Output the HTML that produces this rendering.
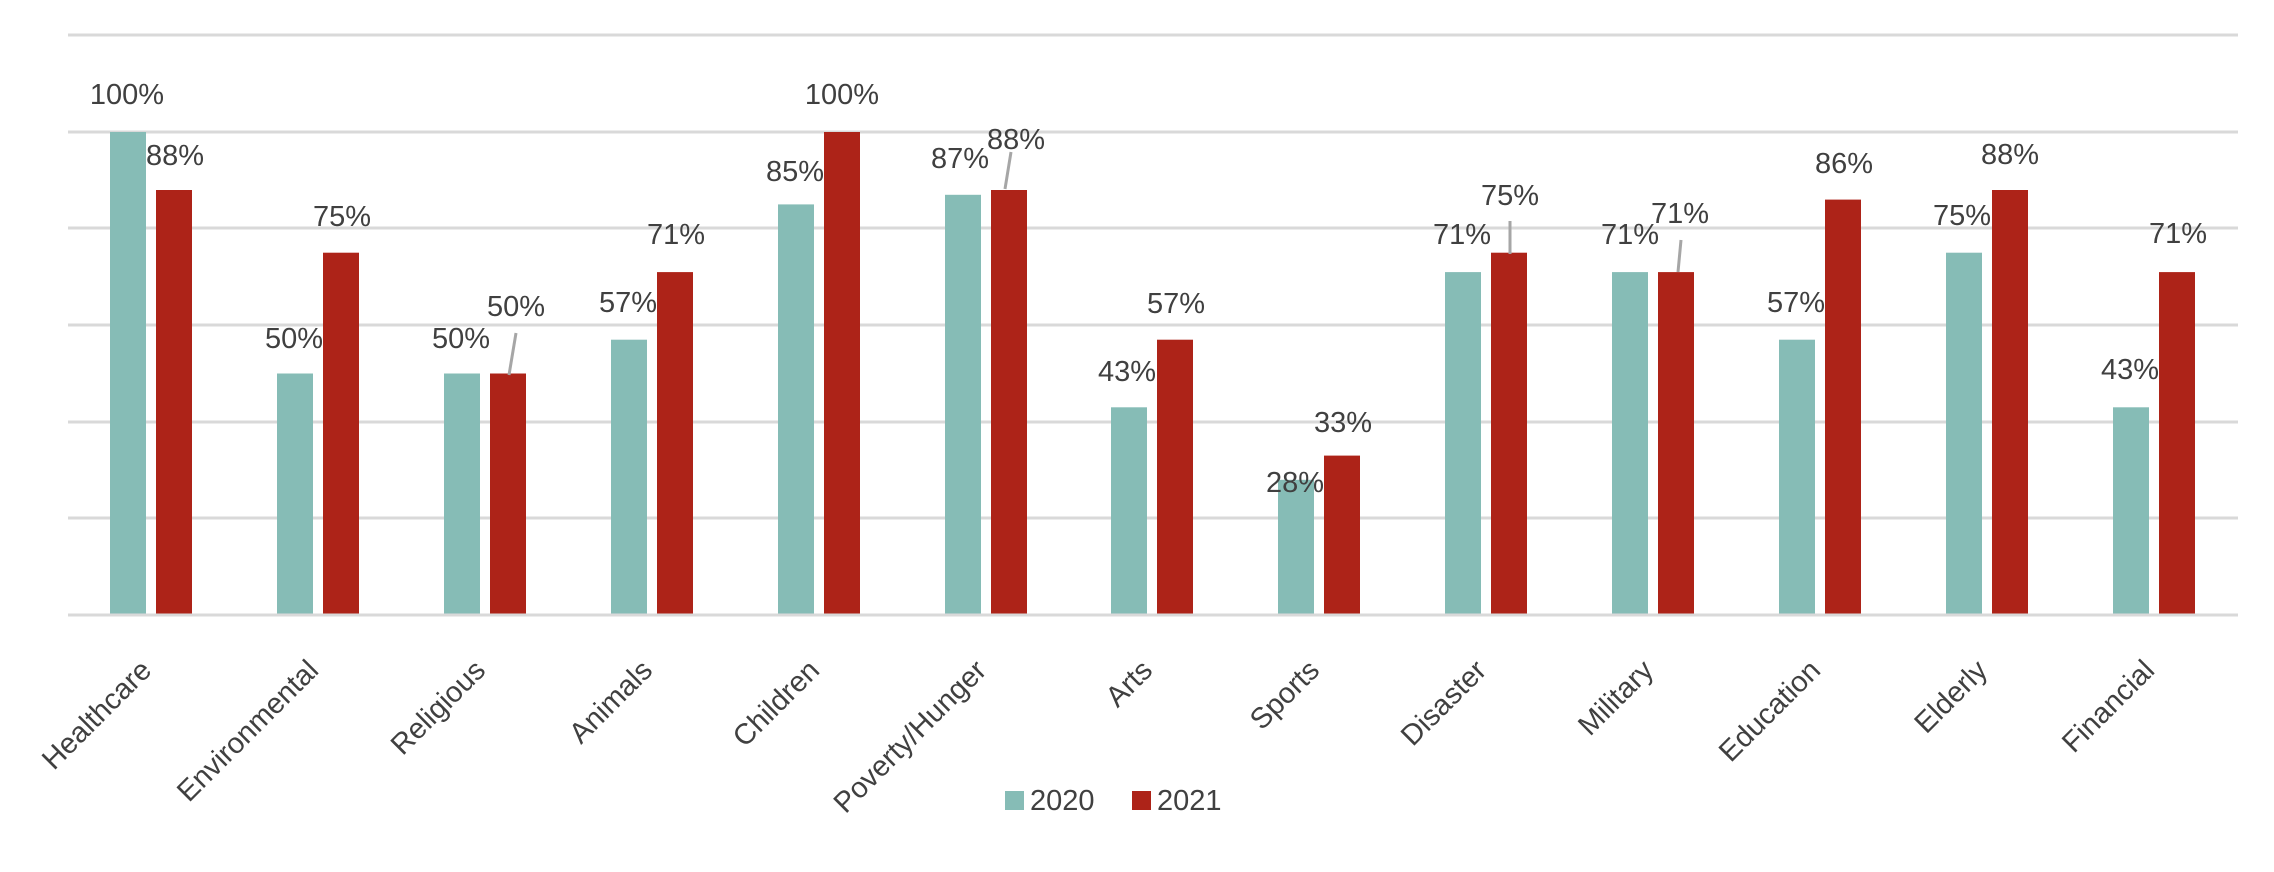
<!DOCTYPE html>
<html><head><meta charset="utf-8"><style>html,body{margin:0;padding:0;background:#fff}svg{display:block}</style></head>
<body>
<svg width="2274" height="872" xmlns="http://www.w3.org/2000/svg" font-family="Liberation Sans, sans-serif" font-size="29" fill="#404040">
<g stroke="#D9D9D9" stroke-width="3">
<line x1="68" x2="2238" y1="35" y2="35"/><line x1="68" x2="2238" y1="132" y2="132"/><line x1="68" x2="2238" y1="228" y2="228"/><line x1="68" x2="2238" y1="325" y2="325"/><line x1="68" x2="2238" y1="422" y2="422"/><line x1="68" x2="2238" y1="518" y2="518"/>
</g>
<g fill="#86BCB6">
<rect x="110" y="132" width="36" height="483"/>
<rect x="277" y="373.5" width="36" height="241.5"/>
<rect x="444" y="373.5" width="36" height="241.5"/>
<rect x="611" y="339.7" width="36" height="275.3"/>
<rect x="778" y="204.4" width="36" height="410.6"/>
<rect x="945" y="194.8" width="36" height="420.2"/>
<rect x="1111" y="407.3" width="36" height="207.7"/>
<rect x="1278" y="479.8" width="36" height="135.2"/>
<rect x="1445" y="272.1" width="36" height="342.9"/>
<rect x="1612" y="272.1" width="36" height="342.9"/>
<rect x="1779" y="339.7" width="36" height="275.3"/>
<rect x="1946" y="252.7" width="36" height="362.3"/>
<rect x="2113" y="407.3" width="36" height="207.7"/>
</g>
<g fill="#AD2318">
<rect x="156" y="190" width="36" height="425"/>
<rect x="323" y="252.7" width="36" height="362.3"/>
<rect x="490" y="373.5" width="36" height="241.5"/>
<rect x="657" y="272.1" width="36" height="342.9"/>
<rect x="824" y="132" width="36" height="483"/>
<rect x="991" y="190" width="36" height="425"/>
<rect x="1157" y="339.7" width="36" height="275.3"/>
<rect x="1324" y="455.6" width="36" height="159.4"/>
<rect x="1491" y="252.7" width="36" height="362.3"/>
<rect x="1658" y="272.1" width="36" height="342.9"/>
<rect x="1825" y="199.6" width="36" height="415.4"/>
<rect x="1992" y="190" width="36" height="425"/>
<rect x="2159" y="272.1" width="36" height="342.9"/>
</g>
<line x1="68" x2="2238" y1="615" y2="615" stroke="#D9D9D9" stroke-width="3"/>
<g stroke="#A6A6A6" stroke-width="3">
<line x1="516" y1="333" x2="509" y2="375"/>
<line x1="1011" y1="152" x2="1005" y2="189"/>
<line x1="1510" y1="221" x2="1510" y2="254"/>
<line x1="1681" y1="240" x2="1678" y2="272"/>
</g>
<g text-anchor="middle">
<text x="127" y="104">100%</text><text x="175" y="165">88%</text>
<text x="294" y="348">50%</text><text x="342" y="226">75%</text>
<text x="461" y="348">50%</text><text x="516" y="316">50%</text>
<text x="628" y="312">57%</text><text x="676" y="244">71%</text>
<text x="795" y="181">85%</text><text x="842" y="104">100%</text>
<text x="960" y="168">87%</text><text x="1016" y="149">88%</text>
<text x="1127" y="381">43%</text><text x="1176" y="313">57%</text>
<text x="1295" y="492">28%</text><text x="1343" y="432">33%</text>
<text x="1462" y="244">71%</text><text x="1510" y="205">75%</text>
<text x="1630" y="244">71%</text><text x="1680" y="223">71%</text>
<text x="1796" y="312">57%</text><text x="1844" y="173">86%</text>
<text x="1962" y="225">75%</text><text x="2010" y="164">88%</text>
<text x="2130" y="379">43%</text><text x="2178" y="243">71%</text>
</g>
<g text-anchor="end">
<text transform="translate(153,672) rotate(-45)">Healthcare</text>
<text transform="translate(320,672) rotate(-45)">Environmental</text>
<text transform="translate(487,672) rotate(-45)">Religious</text>
<text transform="translate(654,672) rotate(-45)">Animals</text>
<text transform="translate(821,672) rotate(-45)">Children</text>
<text transform="translate(988,672) rotate(-45)">Poverty/Hunger</text>
<text transform="translate(1154,672) rotate(-45)">Arts</text>
<text transform="translate(1321,672) rotate(-45)">Sports</text>
<text transform="translate(1488,672) rotate(-45)">Disaster</text>
<text transform="translate(1655,672) rotate(-45)">Military</text>
<text transform="translate(1822,672) rotate(-45)">Education</text>
<text transform="translate(1989,672) rotate(-45)">Elderly</text>
<text transform="translate(2156,672) rotate(-45)">Financial</text>
</g>
<rect x="1005" y="791" width="19" height="19" fill="#86BCB6"/>
<text x="1030" y="810">2020</text>
<rect x="1132" y="791" width="19" height="19" fill="#AD2318"/>
<text x="1157" y="810">2021</text>
</svg>
</body></html>
